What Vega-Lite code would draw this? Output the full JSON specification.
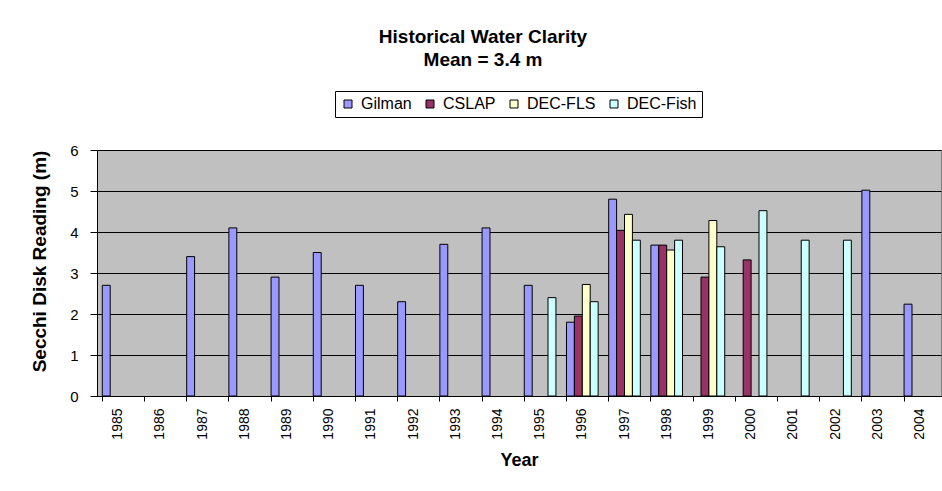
{
  "$schema": "https://vega.github.io/schema/vega-lite/v6.json",
  "width": 844,
  "height": 246,
  "autosize": "none",
  "padding": {"left": 97, "top": 150, "right": 1, "bottom": 95},
  "background": "white",
  "title": {
    "text": ["Historical Water Clarity", "Mean = 3.4 m"],
    "font": "Liberation Sans",
    "fontSize": 19,
    "fontWeight": "bold",
    "color": "black",
    "anchor": "middle",
    "dx": -36,
    "lineHeight": 23,
    "offset": 21
  },
  "data": {
    "values": [
      {"year": "1985", "series": "Gilman", "value": 2.7},
      {"year": "1987", "series": "Gilman", "value": 3.4},
      {"year": "1988", "series": "Gilman", "value": 4.1},
      {"year": "1989", "series": "Gilman", "value": 2.9},
      {"year": "1990", "series": "Gilman", "value": 3.5},
      {"year": "1991", "series": "Gilman", "value": 2.7},
      {"year": "1992", "series": "Gilman", "value": 2.3},
      {"year": "1993", "series": "Gilman", "value": 3.7},
      {"year": "1994", "series": "Gilman", "value": 4.1},
      {"year": "1995", "series": "Gilman", "value": 2.7},
      {"year": "1995", "series": "DEC-Fish", "value": 2.4},
      {"year": "1996", "series": "Gilman", "value": 1.8},
      {"year": "1996", "series": "CSLAP", "value": 1.95},
      {"year": "1996", "series": "DEC-FLS", "value": 2.72},
      {"year": "1996", "series": "DEC-Fish", "value": 2.3},
      {"year": "1997", "series": "Gilman", "value": 4.8},
      {"year": "1997", "series": "CSLAP", "value": 4.04},
      {"year": "1997", "series": "DEC-FLS", "value": 4.43},
      {"year": "1997", "series": "DEC-Fish", "value": 3.8},
      {"year": "1998", "series": "Gilman", "value": 3.68},
      {"year": "1998", "series": "CSLAP", "value": 3.68},
      {"year": "1998", "series": "DEC-FLS", "value": 3.56},
      {"year": "1998", "series": "DEC-Fish", "value": 3.8},
      {"year": "1999", "series": "CSLAP", "value": 2.9},
      {"year": "1999", "series": "DEC-FLS", "value": 4.28},
      {"year": "1999", "series": "DEC-Fish", "value": 3.64},
      {"year": "2000", "series": "CSLAP", "value": 3.32},
      {"year": "2000", "series": "DEC-Fish", "value": 4.52},
      {"year": "2001", "series": "DEC-Fish", "value": 3.8},
      {"year": "2002", "series": "DEC-Fish", "value": 3.8},
      {"year": "2003", "series": "Gilman", "value": 5.02},
      {"year": "2004", "series": "Gilman", "value": 2.24}
    ]
  },
  "mark": {"type": "bar", "stroke": "black", "strokeWidth": 1},
  "encoding": {
    "x": {
      "field": "year",
      "type": "ordinal",
      "scale": {
        "domain": ["1985","1986","1987","1988","1989","1990","1991","1992","1993","1994","1995","1996","1997","1998","1999","2000","2001","2002","2003","2004"],
        "paddingInner": 0.25,
        "paddingOuter": 0.125
      },
      "axis": {
        "title": "Year",
        "titleFont": "Liberation Sans",
        "titleFontSize": 18,
        "titleFontWeight": "bold",
        "titleColor": "black",
        "titlePadding": 12,
        "labelFont": "Liberation Sans",
        "labelFontSize": 14,
        "labelColor": "black",
        "labelAngle": -90,
        "labelPadding": 7,
        "bandPosition": 0,
        "tickColor": "black",
        "tickSize": 5,
        "domainColor": "black",
        "grid": false
      }
    },
    "xOffset": {
      "field": "series",
      "type": "nominal",
      "scale": {"domain": ["Gilman", "CSLAP", "DEC-FLS", "DEC-Fish"]}
    },
    "y": {
      "field": "value",
      "type": "quantitative",
      "scale": {"domain": [0, 6], "nice": false},
      "axis": {
        "title": "Secchi Disk Reading (m)",
        "titleFont": "Liberation Sans",
        "titleFontSize": 19,
        "titleFontWeight": "bold",
        "titleColor": "black",
        "titlePadding": 20,
        "titleY": 111,
        "values": [0, 1, 2, 3, 4, 5, 6],
        "labelFont": "Liberation Sans",
        "labelFontSize": 15,
        "labelColor": "black",
        "labelPadding": 12,
        "tickColor": "black",
        "tickSize": 7,
        "domainColor": "black",
        "grid": true,
        "gridColor": "black",
        "gridOpacity": 1
      }
    },
    "fill": {
      "field": "series",
      "type": "nominal",
      "scale": {
        "domain": ["Gilman", "CSLAP", "DEC-FLS", "DEC-Fish"],
        "range": ["#9999FF", "#993366", "#FFFFCC", "#CCFFFF"]
      },
      "legend": {
        "title": null,
        "orient": "none",
        "direction": "horizontal",
        "legendX": 238,
        "legendY": -59,
        "fillColor": "white",
        "strokeColor": "black",
        "padding": 5,
        "symbolType": "square",
        "symbolSize": 64,
        "symbolStrokeColor": "black",
        "symbolStrokeWidth": 1,
        "symbolOpacity": 1,
        "labelFont": "Liberation Sans",
        "labelFontSize": 16,
        "labelColor": "black",
        "labelOffset": 5,
        "columnPadding": 10
      }
    }
  },
  "config": {
    "view": {"fill": "#C0C0C0", "stroke": "#808080", "strokeWidth": 1}
  }
}
